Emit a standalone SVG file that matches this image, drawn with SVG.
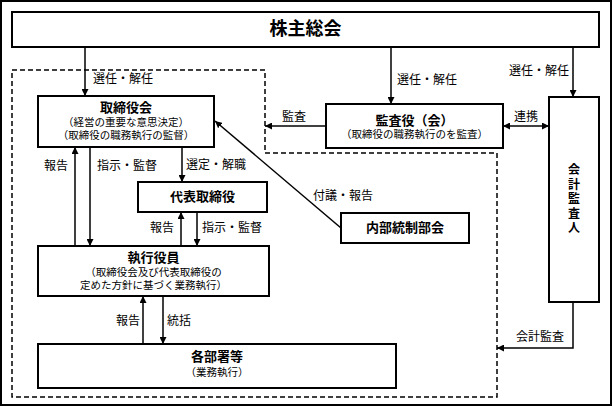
<svg xmlns="http://www.w3.org/2000/svg" width="613" height="407" viewBox="0 0 613 407">
<defs>
<style>
text{font-family:"Liberation Sans","Noto Sans CJK JP","Noto Sans CJK SC",sans-serif;fill:#000;dominant-baseline:central}
.box{fill:#fff;stroke:#000;stroke-width:2}
.t{font-size:13px;font-weight:bold;text-anchor:middle}
.v{font-size:12px;font-weight:bold;text-anchor:middle}
.s{font-size:10.5px;font-weight:normal}
.l{font-size:12px}
.c{fill:none;stroke:#000;stroke-width:1.5}
.d{fill:none;stroke:#000;stroke-width:1.5;stroke-dasharray:5 3}
</style>
<marker id="ah" viewBox="0 0 10 10" markerWidth="7" markerHeight="7" markerUnits="userSpaceOnUse" refX="10" refY="5" orient="auto-start-reverse">
<path d="M0,0 L10,5 L0,10 Z" fill="#000"/>
</marker>
</defs>
<rect x="0" y="0" width="613" height="407" fill="#fff"/>
<rect x="1" y="1" width="610" height="404" fill="none" stroke="#000" stroke-width="2"/>
<path class="d" d="M12,70 H265 V153 H497 V397 H12 Z"/>

<g id="connectors">
<line class="c" x1="85" y1="47" x2="85" y2="96" marker-end="url(#ah)"/>
<text class="l" x="93" y="79">選任・解任</text>
<line class="c" x1="391" y1="47" x2="391" y2="104" marker-end="url(#ah)"/>
<text class="l" x="397" y="80">選任・解任</text>
<line class="c" x1="573" y1="47" x2="573" y2="97" marker-end="url(#ah)"/>
<text class="l" x="569" y="71" text-anchor="end">選任・解任</text>
<line class="c" x1="326" y1="126" x2="265" y2="126" marker-end="url(#ah)"/>
<text class="l" x="294" y="117" text-anchor="middle">監査</text>
<line class="c" x1="503" y1="126" x2="549" y2="126" marker-start="url(#ah)" marker-end="url(#ah)"/>
<text class="l" x="526" y="117" text-anchor="middle">連携</text>
<line class="c" x1="341" y1="228" x2="215" y2="121" marker-end="url(#ah)"/>
<text class="l" x="313" y="196">付議・報告</text>
<line class="c" x1="75" y1="246" x2="75" y2="147" marker-end="url(#ah)"/>
<text class="l" x="68" y="166" text-anchor="end">報告</text>
<line class="c" x1="90" y1="147" x2="90" y2="246" marker-end="url(#ah)"/>
<text class="l" x="97" y="166">指示・監督</text>
<line class="c" x1="182" y1="147" x2="182" y2="182" marker-end="url(#ah)"/>
<text class="l" x="186" y="165">選定・解職</text>
<line class="c" x1="181" y1="246" x2="181" y2="212" marker-end="url(#ah)"/>
<text class="l" x="174" y="228" text-anchor="end">報告</text>
<line class="c" x1="197" y1="212" x2="197" y2="246" marker-end="url(#ah)"/>
<text class="l" x="202" y="228">指示・監督</text>
<line class="c" x1="143" y1="344" x2="143" y2="296" marker-end="url(#ah)"/>
<text class="l" x="140" y="321" text-anchor="end">報告</text>
<line class="c" x1="163" y1="296" x2="163" y2="344" marker-end="url(#ah)"/>
<text class="l" x="167" y="321">統括</text>
<path class="c" d="M573,302 V348 H497" marker-end="url(#ah)"/>
<text class="l" x="540" y="337" text-anchor="middle">会計監査</text>
</g>

<g id="kabunushi">
<rect class="box" x="12" y="12" width="587" height="35"/>
<text x="305.5" y="29" font-size="18" font-weight="bold" text-anchor="middle">株主総会</text>
</g>
<g id="torishimariyakukai">
<rect class="box" x="38" y="96" width="176" height="51"/>
<text class="t" x="126" y="107">取締役会<tspan class="s" x="126" y="122">（経営の重要な意思決定）</tspan><tspan class="s" x="126" y="135">（取締役の職務執行の監督）</tspan></text>
</g>
<g id="kansayaku">
<rect class="box" x="326" y="104" width="177" height="44"/>
<text class="t" x="414.5" y="120">監査役（会）<tspan class="s" x="414.5" y="134">（取締役の職務執行のを監査）</tspan></text>
</g>
<g id="kaikeikansanin">
<rect class="box" x="549" y="97" width="50" height="205"/>
<text class="v" x="574" y="170">会<tspan x="574" y="184.5">計</tspan><tspan x="574" y="199">監</tspan><tspan x="574" y="213.5">査</tspan><tspan x="574" y="228">人</tspan></text>
</g>
<g id="daihyo">
<rect class="box" x="138" y="182" width="129" height="30"/>
<text class="t" x="202.5" y="196">代表取締役</text>
</g>
<g id="naibu">
<rect class="box" x="341" y="213" width="128" height="30"/>
<text class="t" x="405" y="227">内部統制部会</text>
</g>
<g id="shikkou">
<rect class="box" x="38" y="246" width="231" height="50"/>
<text class="t" x="153.5" y="257">執行役員<tspan class="s" x="153.5" y="272">（取締役会及び代表取締役の</tspan><tspan class="s" x="153.5" y="285">定めた方針に基づく業務執行）</tspan></text>
</g>
<g id="kakubusho">
<rect class="box" x="38" y="344" width="358" height="44"/>
<text class="t" x="217" y="356.5">各部署等<tspan class="s" x="217" y="371.5">（業務執行）</tspan></text>
</g>
</svg>
